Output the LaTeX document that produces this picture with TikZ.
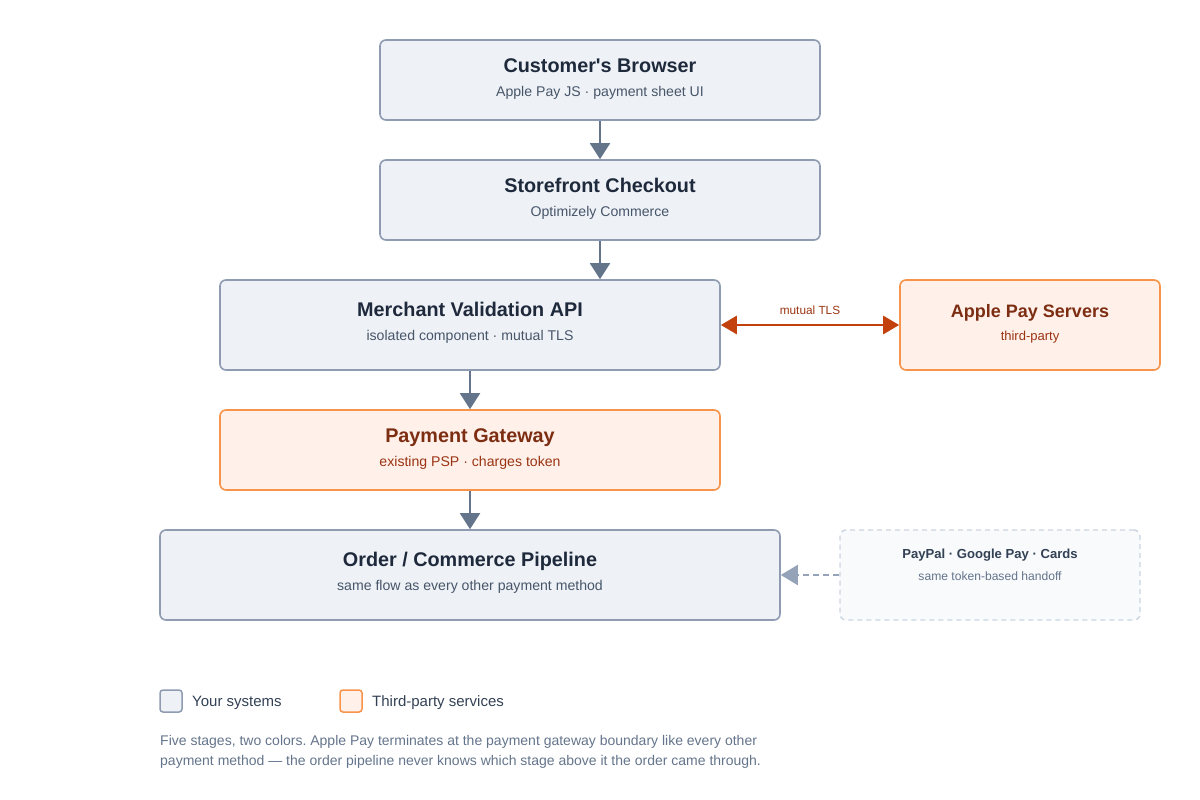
\documentclass[tikz,border=0pt]{standalone}
\usepackage{fontspec}
\setmainfont{Liberation Sans}[Ligatures=TeXOff]
\usepackage{tikz}
\usetikzlibrary{arrows.meta,positioning}
\definecolor{sysfill}{HTML}{EEF2F7}
\definecolor{sysline}{HTML}{8E9BB1}
\definecolor{systext}{HTML}{1E293B}
\definecolor{syssub}{HTML}{475569}
\definecolor{tpfill}{HTML}{FFF1EA}
\definecolor{tpline}{HTML}{F7934A}
\definecolor{tptext}{HTML}{7C2D12}
\definecolor{tpsub}{HTML}{9A3412}
\definecolor{tlsline}{HTML}{C2410C}
\definecolor{flowline}{HTML}{64748B}
\definecolor{altfill}{HTML}{F8FAFC}
\definecolor{altline}{HTML}{CBD5E1}
\definecolor{altarrow}{HTML}{94A3B8}
\definecolor{legtext}{HTML}{334155}
\frenchspacing
\tikzset{
  sysbox/.style={rectangle, draw=sysline, fill=sysfill, line width=1.6pt, rounded corners=6pt},
  tpbox/.style={rectangle, draw=tpline, fill=tpfill, line width=1.6pt, rounded corners=6pt},
  altbox/.style={rectangle, draw=altline, fill=altfill, line width=1.4pt, rounded corners=6pt,
                 dash pattern=on 5pt off 4pt},
  boxtitle/.style={anchor=base, inner sep=0, font=\fontsize{19.8}{24}\selectfont\bfseries},
  boxsub/.style={anchor=base, inner sep=0, font=\fontsize{14.1}{17}\selectfont}
}

\begin{document}
\begin{tikzpicture}[x=1pt, y=-1pt]
      \useasboundingbox (0,0) rectangle (1200,800);
      % boxes
      \node[sysbox, minimum width=440, minimum height=80] (CB) at (600,80) {};
      \node[sysbox, minimum width=440, minimum height=80] (SF) at (600,200) {};
      \node[sysbox, minimum width=500, minimum height=90] (MV) at (470,325) {};
      \node[tpbox, minimum width=260, minimum height=90] (AP) at (1030,325) {};
      \node[tpbox, minimum width=500, minimum height=80] (PG) at (470,450) {};
      \node[sysbox, minimum width=620, minimum height=90] (OP) at (470,575) {};
      \node[altbox, minimum width=300, minimum height=90] (AM) at (990,575) {};

      % texts
      \begin{scope}[every node/.append style={text=systext}]
          \node[boxtitle] (CBt) at (600,72.5) {Customer's Browser};
          \node[boxtitle] (SFt) at (600,192.5) {Storefront Checkout};
          \node[boxtitle] (MVt) at (470,316) {Merchant Validation API};
          \node[boxtitle] (OPt) at (470,566.5) {Order / Commerce Pipeline};
      \end{scope}
      \begin{scope}[every node/.append style={text=syssub}]
          \node[boxsub] (CBs) at (600,96) {Apple Pay JS · payment sheet UI};
          \node[boxsub] (SFs) at (600,216) {Optimizely Commerce};
          \node[boxsub] (MVs) at (470,340) {isolated component · mutual TLS};
          \node[boxsub] (OPs) at (470,590) {same flow as every other payment method};
      \end{scope}
      \begin{scope}[every node/.append style={text=tptext}]
          \node[boxtitle, font=\fontsize{18}{22}\selectfont\bfseries] (APt) at (1030,317) {Apple Pay Servers};
          \node[boxtitle] (PGt) at (470,442.5) {Payment Gateway};
      \end{scope}
      \begin{scope}[every node/.append style={text=tpsub}]
          \node[boxsub, font=\fontsize{13}{16}\selectfont] (APs) at (1030,340) {third-party};
          \node[boxsub] (PGs) at (470,466) {existing PSP · charges token};
      \end{scope}
      \node[boxtitle, font=\fontsize{13.1}{16}\selectfont\bfseries, text=legtext] (AMt) at (990,558) {PayPal · Google Pay · Cards};
      \node[boxsub, font=\fontsize{12.1}{14}\selectfont, text=flowline] (AMs) at (990,580) {same token-based handoff};

      % connectors
      \begin{scope}[>={Triangle[length=16pt,width=20pt]}, line width=2pt, draw=flowline]
          \path [->] (CB) edge (SF);
          \path [->] (SF.south) edge (SF.south |- MV.north);
          \path [->] (MV) edge (PG);
          \path [->] (PG) edge (OP);
      \end{scope}
      \draw [{Triangle[length=16pt,width=18pt]}-{Triangle[length=16pt,width=18pt]},
             line width=2.8pt, tlsline] (MV.east) -- (AP.west)
             node[midway, above=9pt, font=\fontsize{11.8}{14}\selectfont, text=tpsub, inner sep=0] (TLS) {mutual TLS};
      \draw [-{Triangle[length=17pt,width=20pt]}, line width=2pt, altarrow,
             dash pattern=on 6pt off 4pt] (AM.west) -- (OP.east);

      % legend
      \begin{scope}[every node/.append style={text=legtext, font=\fontsize{15}{18}\selectfont}]
          \node[sysbox, line width=1.5pt, rounded corners=3pt, minimum size=22] (L1) at (171,701) {};
          \node[anchor=base west, inner sep=0] (L1t) at (192,706.5) {Your systems};
          \node[tpbox, line width=1.5pt, rounded corners=3pt, minimum size=22] (L2) at (351,701) {};
          \node[anchor=base west, inner sep=0] (L2t) at (372,706.5) {Third-party services};
      \end{scope}

      % caption
      \begin{scope}[every node/.style={anchor=base west, inner sep=0, text=flowline, font=\fontsize{14}{17}\selectfont}]
          \node (cap1) at (160,745) {Five stages, two colors. Apple Pay terminates at the payment gateway boundary like every other};
          \node (cap2) at (160,765) {payment method — the order pipeline never knows which stage above it the order came through.};
      \end{scope}
\end{tikzpicture}
\end{document}
